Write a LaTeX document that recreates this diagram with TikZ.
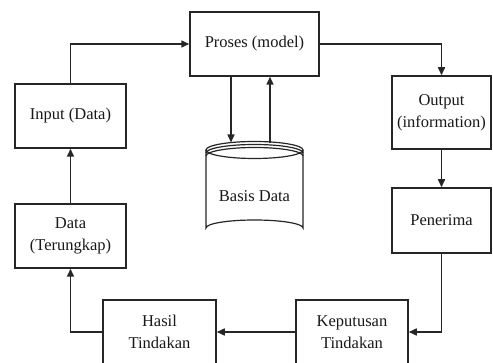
\documentclass[tikz,border=0pt]{standalone}
\usepackage{fontspec}
\setmainfont{Liberation Serif}
\usetikzlibrary{arrows.meta}
\begin{document}
\begin{tikzpicture}[x=1pt,y=-1pt,
  box/.style={draw=black!85,line width=1.5pt,fill=white,align=center,inner sep=0pt,
    font=\fontsize{16.5}{22}\selectfont,text=black!90},
  conn/.style={draw=black!85,line width=1.5pt,-{Triangle[length=8pt,width=7pt]}},
  dbline/.style={draw=black!85,line width=1.2pt}]
\useasboundingbox (0,0) rectangle (493,363);
\clip (0,0) rectangle (493,363);
\fill[white] (0,0) rectangle (493,363);
% boxes
\node[box,minimum width=129pt,minimum height=64pt] (proses) at (254.5,44) {Proses (model)};
\node[box,minimum width=111pt,minimum height=64pt] (input) at (70.5,116) {Input (Data)};
\node[box,minimum width=99pt,minimum height=73pt] (output) at (441.5,112.5) {Output\\(information)};
\node[box,minimum width=111pt,minimum height=64pt] (data) at (70.5,236) {Data\\(Terungkap)};
\node[box,minimum width=99pt,minimum height=65pt] (penerima) at (441.5,220.5) {Penerima};
\node[box,minimum width=113pt,minimum height=64pt] (hasil) at (159.5,332) {Hasil\\Tindakan};
\node[box,minimum width=112pt,minimum height=64pt] (keputusan) at (352,332) {Keputusan\\Tindakan};
% database cylinder
\draw[dbline,fill=white] (206,150) -- (206,228) arc[start angle=180,end angle=360,x radius=48.5,y radius=8] -- (303,150);
\draw[dbline,fill=white] (254.5,150) ellipse[x radius=48.5,y radius=8.5];
\draw[dbline] (206,153) arc[start angle=180,end angle=360,x radius=48.5,y radius=8.5];
\draw[dbline] (206,156) arc[start angle=180,end angle=360,x radius=48.5,y radius=8.5];
\node[font=\fontsize{16.5}{22}\selectfont,text=black!90] (db) at (254.5,196) {Basis Data};
\coordinate (dbin) at (231,142.5);
\coordinate (dbout) at (270,143);
% connectors
\draw[conn] (input.north) |- (proses.west);
\draw[conn] (proses.east) -| (output.north);
\draw[conn] (output.south) -- (penerima.north);
\draw[conn] (penerima.south) |- (keputusan.east);
\draw[conn] (keputusan.west) -- (hasil.east);
\draw[conn] (hasil.west) -| (data.south);
\draw[conn] (data.north) -- (input.south);
\draw[conn] (proses.south -| dbin) -- (dbin);
\draw[conn] (dbout) -- (proses.south -| dbout);
\end{tikzpicture}
\end{document}
